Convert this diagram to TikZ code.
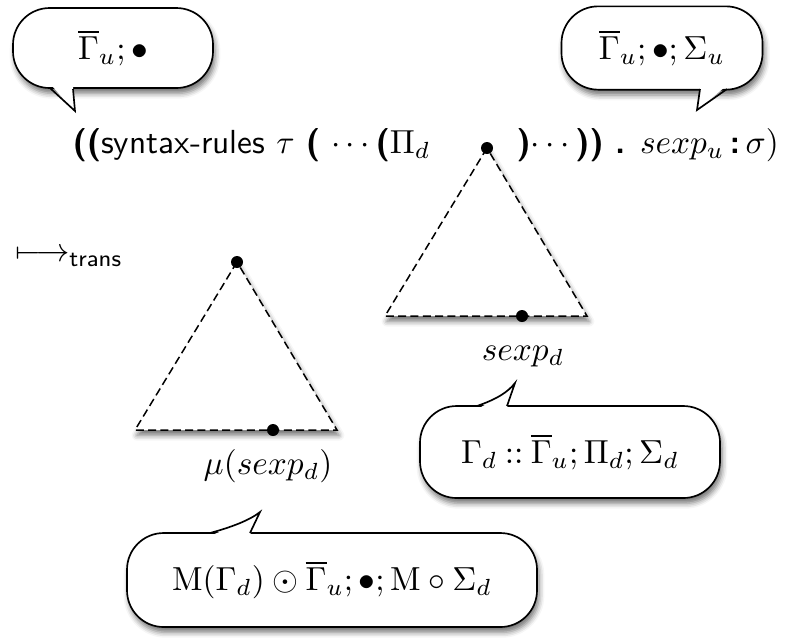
\documentclass[tikz,border=0pt]{standalone}
\usepackage{amsmath}
\usepackage{amssymb}
\usepackage{tikz}
\usetikzlibrary{shadows.blur}

\newcommand{\kw}[1]{\textsf{\textbf{#1}}}

\begin{document}
\begin{tikzpicture}[x=0.3pt,y=-0.3pt,
  soft/.style={blur shadow={shadow xshift=0.6pt,shadow yshift=-1.6pt,shadow blur radius=1.6pt,shadow opacity=55}},
  bubble/.style={draw,fill=white,rounded corners=11pt,line width=0.5pt,soft},
  tail/.style={line width=0.5pt},
  tri/.style={draw,fill=white,line width=0.45pt,dash pattern=on 2.4pt off 1.3pt,soft},
  pt/.style={circle,fill=black,inner sep=0pt,minimum size=3.6pt}]
  \useasboundingbox (0,0) rectangle (812,637);

  % the two trees
  \coordinate (top1) at (487,148);
  \coordinate (bl1) at (385,316);
  \coordinate (br1) at (587,316);
  \draw[tri] (top1) -- (bl1) -- (br1) -- cycle;
  \coordinate (top2) at (237,262);
  \coordinate (bl2) at (135,430);
  \coordinate (br2) at (337,430);
  \draw[tri] (top2) -- (bl2) -- (br2) -- cycle;

  \node[pt] (hole) at (top1) {};
  \node[pt] (leaf1) at (522,316) {};
  \node[pt] (root2) at (top2) {};
  \node[pt] (leaf2) at (273,430) {};
  \node (sexpd) at (523,357) {$sexp_d$};
  \node (musexp) at (268,466) {$\mu(sexp_d)$};

  % the expression
  \node[anchor=base west,inner sep=0pt] (lhs) at (72,153)
    {\kw{((}\textsf{syntax-rules} $\tau$ \kw{(} $\cdots$\kw{(}$\Pi_d$};
  \node[anchor=base west,inner sep=0pt] (rhs) at (516,153)
    {\kw{)}$\cdots$\kw{))} \kw{.} $sexp_u$\,\kw{:}\,$\sigma)$};

  \node[anchor=west,inner sep=0pt] (trans) at (15,258) {$\longmapsto_{\textsf{trans}}$};

  % bubbles
  \node[bubble,minimum width=60pt,minimum height=24pt] (gu) at (113,48)
    {$\overline{\Gamma}_u; \bullet$};
  \fill[white] (52,86) -- (75,111) -- (73,86) -- cycle;
  \draw[tail] (50,88) -- (75,111) -- (73,89);

  \node[bubble,minimum width=60.3pt,minimum height=25pt] (gus) at (662,48)
    {$\overline{\Gamma}_u; \bullet; \Sigma_u$};
  \fill[white] (700,87) -- (697,110) -- (725,87) -- cycle;
  \draw[tail] (700,89) -- (697,110) -- (727,89);

  \node[bubble,minimum width=90pt,minimum height=27.6pt] (gd) at (570,452)
    {$\Gamma_d \mathbin{::} \overline{\Gamma}_u; \Pi_d; \Sigma_d$};
  \fill[white] (479,408) .. controls (497,399) and (508,392) .. (515,383) -- (507,408) -- cycle;
  \draw[tail] (477,406) .. controls (497,399) and (508,392) .. (515,383) -- (507,406);

  \node[bubble,minimum width=123pt,minimum height=28.2pt] (md) at (332,580)
    {$\mathrm{M}(\Gamma_d) \odot \overline{\Gamma}_u; \bullet; \mathrm{M} \circ \Sigma_d$};
  \fill[white] (212,535) .. controls (232,527) and (250,520) .. (260,512) -- (250,535) -- cycle;
  \draw[tail] (210,533) .. controls (232,527) and (250,520) .. (260,512) -- (250,533);
\end{tikzpicture}
\end{document}
